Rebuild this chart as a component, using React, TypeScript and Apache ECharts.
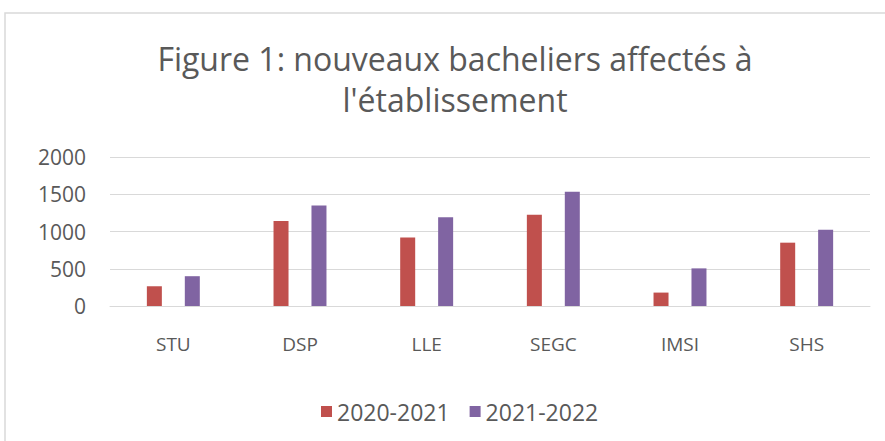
import React, { useEffect, useRef } from "react";
import * as echarts from "echarts";

const categories = ["STU", "DSP", "LLE", "SEGC", "IMSI", "SHS"];
const series2020 = [265, 1140, 920, 1225, 180, 850];
const series2021 = [400, 1350, 1190, 1535, 505, 1025];
const seriesNames = ["2020-2021", "2021-2022"];
const yTicks = { min: 0, max: 2000, interval: 500 };

const FONT = "'Open Sans', sans-serif";
const TEXT = "#595959";

export default function App() {
  const ref = useRef<HTMLDivElement>(null);
  useEffect(() => {
    if (!ref.current) return;
    const chart = echarts.init(ref.current, null, { renderer: "svg" });
    chart.setOption({
      animation: false,
      backgroundColor: "#ffffff",
      textStyle: { fontFamily: FONT },
      title: {
        text: "Figure 1: nouveaux bacheliers affectés à\nl'établissement",
        left: 450,
        top: 33,
        textAlign: "center",
        textStyle: {
          fontFamily: FONT,
          fontSize: 32,
          fontWeight: "normal",
          color: TEXT,
          lineHeight: 41,
        },
      },
      graphic: [
        {
          type: "rect",
          shape: { x: 5, y: 13, width: 900, height: 500 },
          style: { fill: "none", stroke: "#d9d9d9", lineWidth: 1.5 },
          silent: true,
        },
      ],
      legend: {
        data: seriesNames,
        left: 316,
        top: 395,
        itemWidth: 11,
        itemHeight: 11,
        itemGap: 20,
        icon: "rect",
        textStyle: { fontFamily: FONT, fontSize: 23, color: TEXT },
      },
      grid: { left: 110, right: 15, top: 157, bottom: 135, containLabel: false },
      xAxis: {
        type: "category",
        data: categories,
        axisLine: { show: true, lineStyle: { color: "#d9d9d9" } },
        axisTick: { show: false },
        axisLabel: { color: TEXT, fontSize: 19, fontFamily: FONT, margin: 28 },
      },
      yAxis: {
        type: "value",
        min: yTicks.min,
        max: yTicks.max,
        interval: yTicks.interval,
        axisLine: { show: false },
        axisTick: { show: false },
        splitLine: { lineStyle: { color: "#d9d9d9" } },
        axisLabel: {
          color: TEXT,
          fontSize: 21,
          fontFamily: FONT,
          margin: 24,
          formatter: (v: number) => String(v),
        },
      },
      series: [
        {
          name: seriesNames[0],
          type: "bar",
          data: series2020,
          barWidth: 15,
          barGap: "153%",
          itemStyle: { color: "#C0504D" },
        },
        {
          name: seriesNames[1],
          type: "bar",
          data: series2021,
          barWidth: 15,
          barGap: "153%",
          itemStyle: { color: "#8064A2" },
        },
      ],
    });
    return () => chart.dispose();
  }, []);
  return (
    <div
      ref={ref}
      style={{ position: "fixed", left: 0, top: 0, width: 885, height: 441 }}
    />
  );
}
